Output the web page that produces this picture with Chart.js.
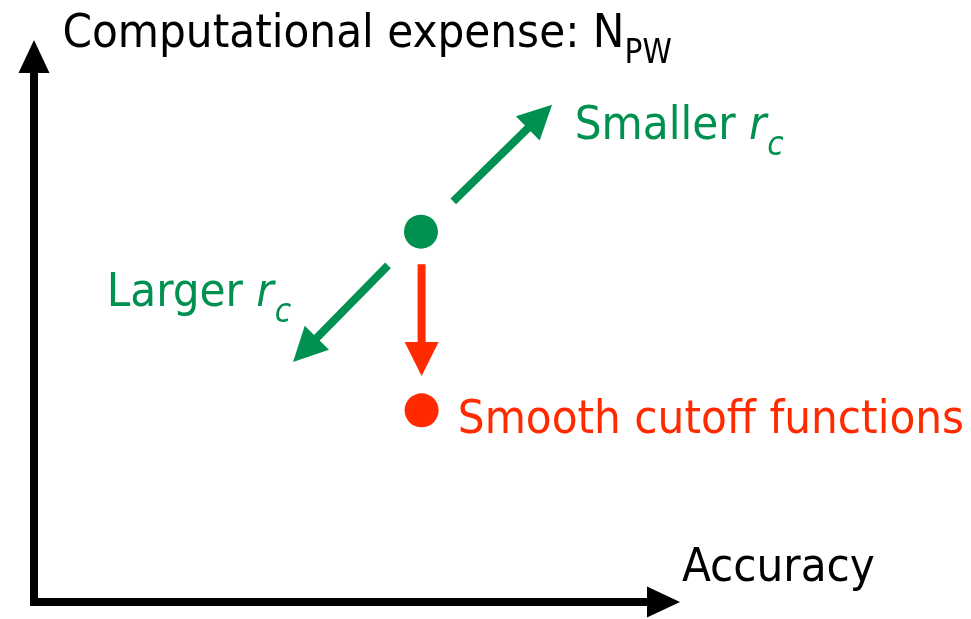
<!DOCTYPE html>
<html>
<head>
<meta charset="utf-8">
<script src="https://cdn.jsdelivr.net/npm/chart.js@4.4.1/dist/chart.umd.min.js"></script>
<style>
  html, body { margin: 0; padding: 0; background: #fff; }
  #wrap { width: 971px; height: 619px; }
</style>
</head>
<body>
<div id="wrap"><canvas id="diagram"></canvas></div>
<script>
// positions on the accuracy / expense plane, arbitrary units, origin at the axes corner
const startState = [{x: 59.9, y: 65.9}];
const smoothState = [{x: 60.0, y: 34.1}];

// arrows: [from, to]
const smallerRc = [{x: 64.9, y: 71.3}, {x: 80.2, y: 88.5}];
const largerRc = [{x: 54.8, y: 59.9}, {x: 40.1, y: 42.7}];
const smoothCut = [{x: 60.0, y: 60.1}, {x: 60.0, y: 40.2}];
const xAxisLine = [{x: 0, y: 0}, {x: 100, y: 0}];
const yAxisLine = [{x: 0, y: 0}, {x: 0, y: 100}];

// text pieces: [text, style] where style is '', 'i' (italic) or 'is'/'s' (subscript)
const titleParts = [['Computational expense: N', ''], ['PW', 's']];
const accuracyParts = [['Accuracy', '']];
const smallerParts = [['Smaller ', ''], ['r', 'i'], ['c', 'is']];
const largerParts = [['Larger ', ''], ['r', 'i'], ['c', 'is']];
const smoothParts = [['Smooth cutoff functions', '']];

const GREEN = '#009150';
const RED = '#ff2a00';
const BLACK = '#000000';
const FAMILY = '"DejaVu Sans Condensed", "DejaVu Sans", sans-serif';

const labels = [
  {parts: titleParts, at: {x: 4.4, y: 98.8}, color: BLACK},
  {parts: accuracyParts, at: {x: 100.3, y: 3.7}, color: BLACK},
  {parts: smallerParts, at: {x: 83.7, y: 82.3}, color: GREEN},
  {parts: largerParts, at: {x: 11.25, y: 52.7}, color: GREEN},
  {parts: smoothParts, at: {x: 65.6, y: 30.0}, color: RED}
];

function drawArrow(ctx, a, b, color, opt) {
  const dx = b.x - a.x, dy = b.y - a.y;
  const len = Math.hypot(dx, dy);
  const ux = dx / len, uy = dy / len;
  const bx = b.x - ux * opt.head, by = b.y - uy * opt.head;
  ctx.save();
  ctx.strokeStyle = color;
  ctx.fillStyle = color;
  ctx.lineWidth = opt.width;
  ctx.lineCap = opt.cap || 'butt';
  ctx.beginPath();
  ctx.moveTo(a.x, a.y);
  ctx.lineTo(bx + ux, by + uy);
  ctx.stroke();
  ctx.beginPath();
  ctx.moveTo(b.x, b.y);
  ctx.lineTo(bx - uy * opt.half, by + ux * opt.half);
  ctx.lineTo(bx + uy * opt.half, by - ux * opt.half);
  ctx.closePath();
  ctx.fill();
  ctx.restore();
}

function drawRich(ctx, parts, x, y, color) {
  ctx.save();
  ctx.fillStyle = color;
  ctx.textBaseline = 'alphabetic';
  ctx.textAlign = 'left';
  let cx = x;
  parts.forEach(([text, style]) => {
    const italic = style.includes('i');
    const sub = style.includes('s');
    const size = sub ? 33 : 47;
    ctx.font = (italic ? 'italic ' : '') + size + 'px ' + FAMILY;
    ctx.fillText(text, cx, y + (sub ? 16 : 0));
    cx += ctx.measureText(text).width + (italic && !sub ? 1 : 0);
  });
  ctx.restore();
}

const diagramPlugin = {
  id: 'diagram',
  afterDatasetsDraw(chart) {
    const ctx = chart.ctx;
    chart.data.datasets.forEach((ds, i) => {
      if (!ds.arrow) return;
      const pts = chart.getDatasetMeta(i).data;
      drawArrow(ctx, pts[0], pts[1], ds.borderColor, ds.arrow);
    });
    const sx = chart.scales.x, sy = chart.scales.y;
    labels.forEach(l => {
      drawRich(ctx, l.parts, sx.getPixelForValue(l.at.x), sy.getPixelForValue(l.at.y), l.color);
    });
  }
};

function arrowSet(data, color, arrow) {
  return {
    type: 'line', data, borderColor: color, showLine: false,
    pointRadius: 0, pointHoverRadius: 0, arrow
  };
}

const colouredArrow = {width: 8, head: 34, half: 17};
const axisArrow = {width: 8, head: 33, half: 15.5, cap: 'square'};

new Chart(document.getElementById('diagram'), {
  type: 'scatter',
  data: {
    datasets: [
      arrowSet(xAxisLine, BLACK, axisArrow),
      arrowSet(yAxisLine, BLACK, axisArrow),
      arrowSet(smallerRc, GREEN, colouredArrow),
      arrowSet(largerRc, GREEN, colouredArrow),
      arrowSet(smoothCut, RED, colouredArrow),
      {data: startState, backgroundColor: GREEN, borderWidth: 0, pointRadius: 17},
      {data: smoothState, backgroundColor: RED, borderWidth: 0, pointRadius: 17}
    ]
  },
  options: {
    responsive: true,
    maintainAspectRatio: false,
    animation: false,
    clip: false,
    layout: {padding: {left: 34, right: 291, top: 40, bottom: 15}},
    scales: {
      x: {type: 'linear', min: 0, max: 100, display: false},
      y: {type: 'linear', min: 0, max: 100, display: false}
    },
    plugins: {
      legend: {display: false},
      tooltip: {enabled: false}
    }
  },
  plugins: [diagramPlugin]
});
</script>
</body>
</html>
